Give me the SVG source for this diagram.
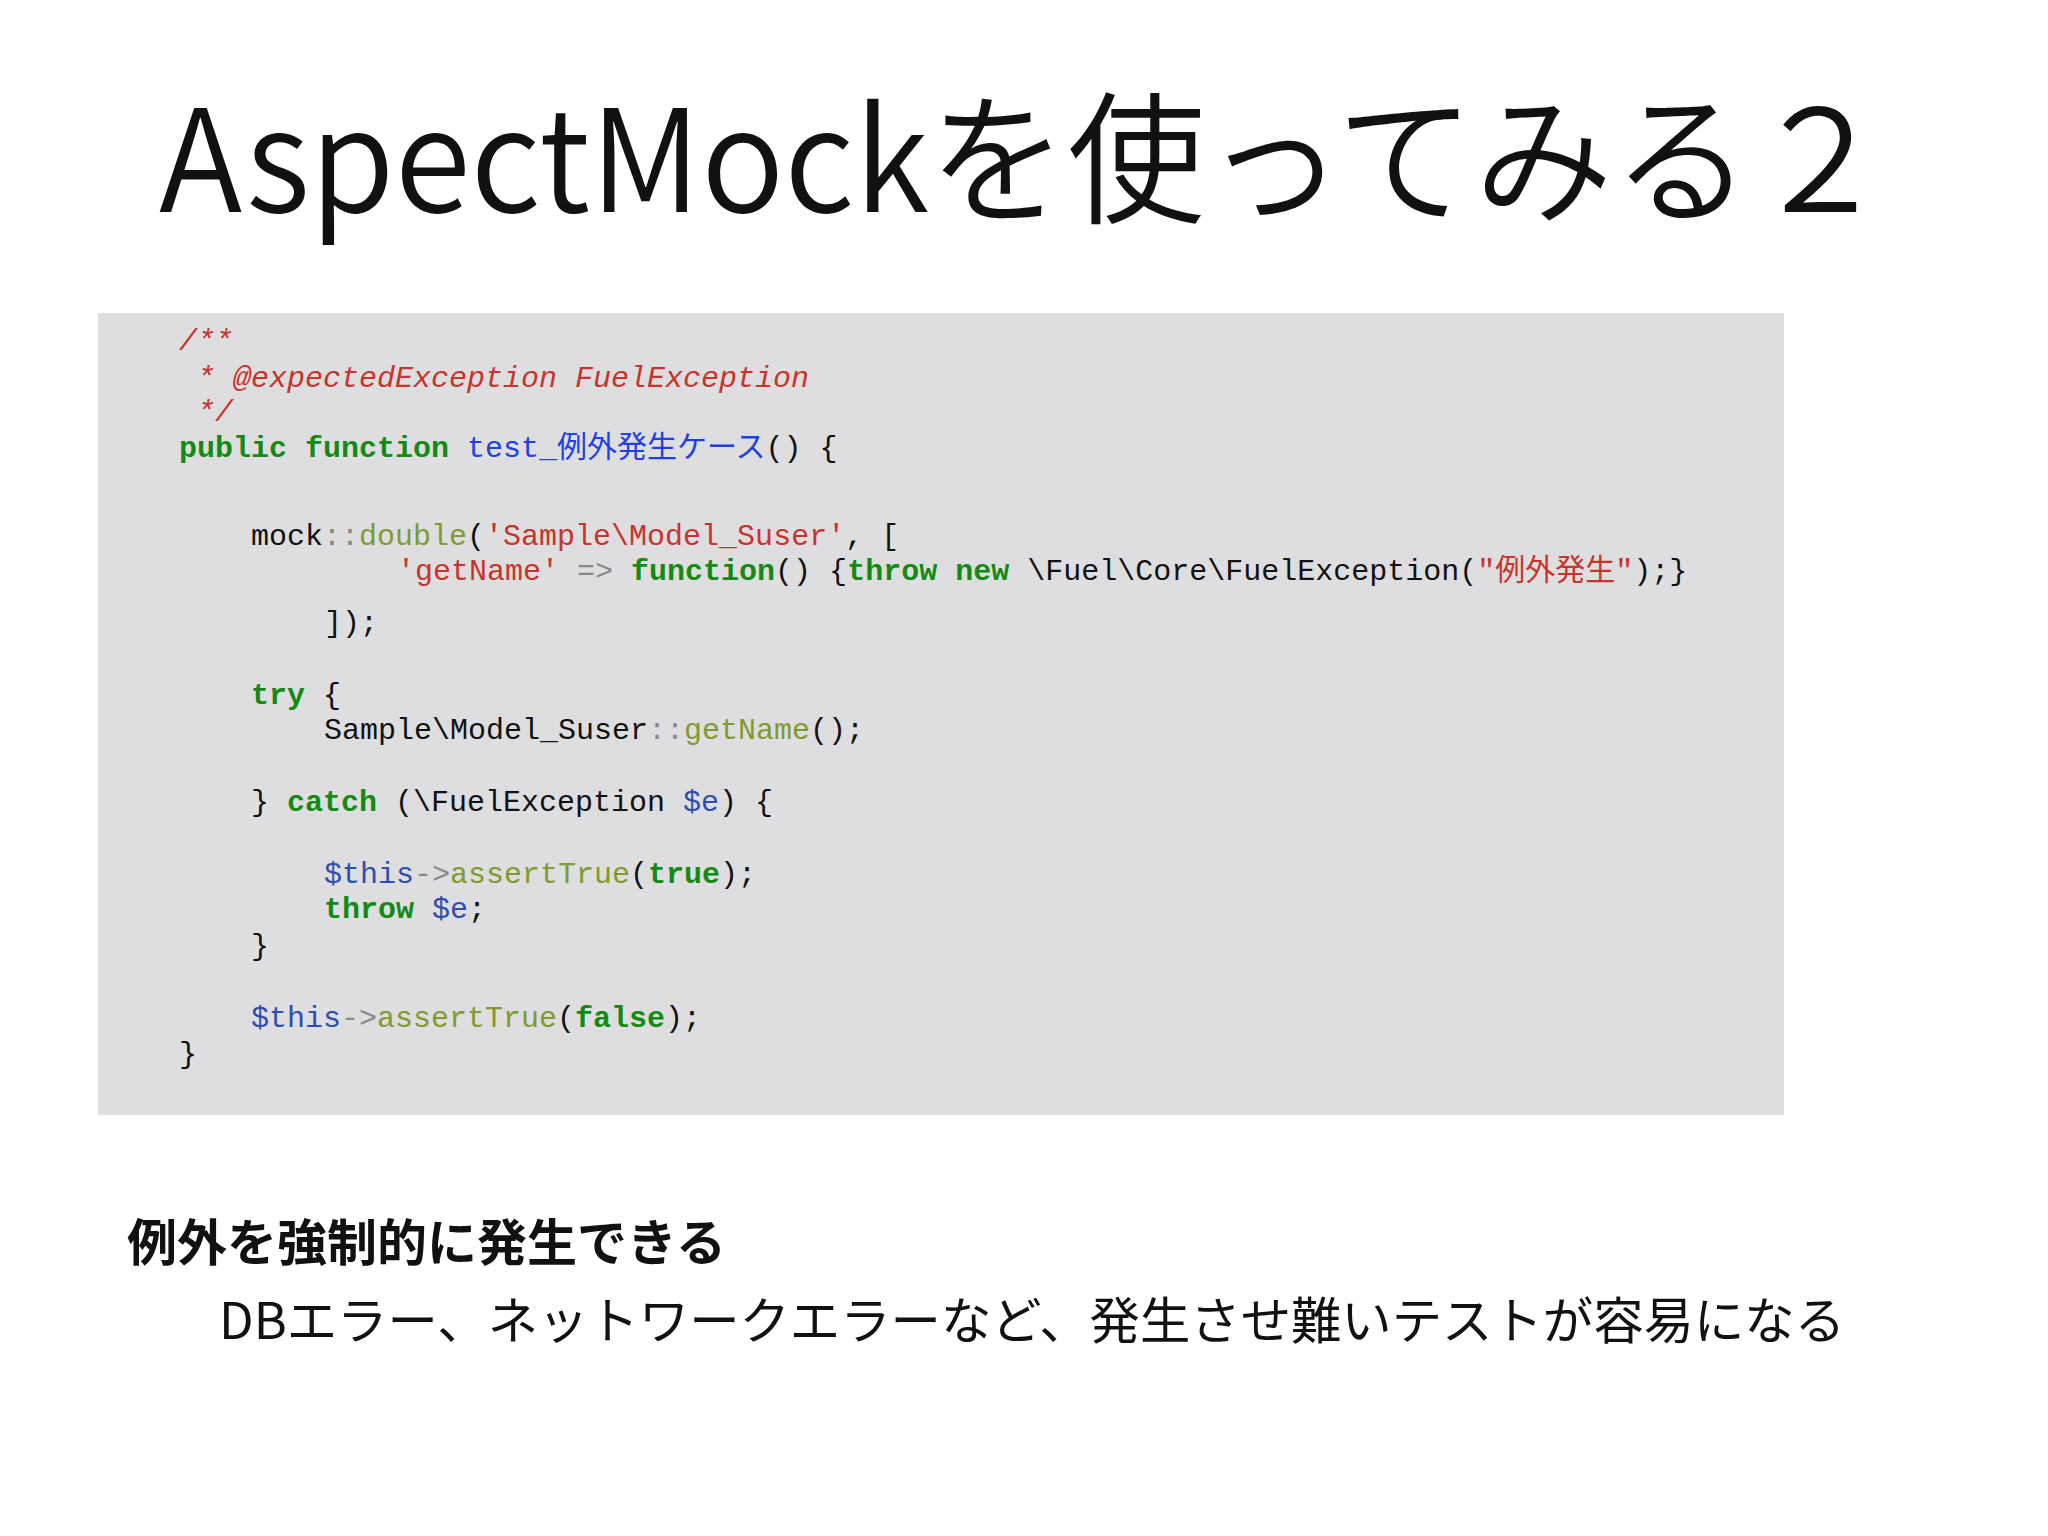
<svg xmlns="http://www.w3.org/2000/svg" width="2048" height="1536" viewBox="0 0 2048 1536">
<style>
.c{font-family:"Liberation Mono","Noto Sans CJK JP",monospace;font-size:30px;fill:#111}
.cm{fill:#c8342c;font-style:italic}
.k{fill:#138a13;font-weight:bold}
.fn{fill:#2240e0}
.s{fill:#c8342c}
.m{fill:#7f9a2e}
.v{fill:#2d4fb0}
.g{fill:#888}
</style>
<rect width="2048" height="1536" fill="#fff"/>
<g id="title"><text x="159" y="212" font-family="'Noto Sans CJK JP',sans-serif" font-weight="350" font-size="142" textLength="1730" lengthAdjust="spacingAndGlyphs" fill="#111">AspectMockを使ってみる２</text></g>
<g id="code">
<rect x="98" y="313" width="1686" height="802" fill="#dedee0"/>
<text class="c" xml:space="preserve">
<tspan x="179" y="350" class="cm">/**</tspan>
<tspan x="179" y="387" class="cm"> * @expectedException FuelException</tspan>
<tspan x="179" y="421" class="cm"> */</tspan>
<tspan x="179" y="457"><tspan class="k">public</tspan> <tspan class="k">function</tspan> <tspan class="fn">test_例外発生ケース</tspan>() {</tspan>
<tspan x="251" y="545">mock<tspan class="g">::</tspan><tspan class="m">double</tspan>(<tspan class="s">'Sample\Model_Suser'</tspan>, [</tspan>
<tspan x="397" y="580"><tspan class="s">'getName'</tspan> <tspan class="g">=&gt;</tspan> <tspan class="k">function</tspan>() {<tspan class="k">throw</tspan> <tspan class="k">new</tspan> \Fuel\Core\FuelException(<tspan class="s">"例外発生"</tspan>);}</tspan>
<tspan x="324" y="632">]);</tspan>
<tspan x="251" y="704"><tspan class="k">try</tspan> {</tspan>
<tspan x="324" y="739">Sample\Model_Suser<tspan class="g">::</tspan><tspan class="m">getName</tspan>();</tspan>
<tspan x="251" y="811">} <tspan class="k">catch</tspan> (\FuelException <tspan class="v">$e</tspan>) {</tspan>
<tspan x="324" y="883"><tspan class="v">$this</tspan><tspan class="g">-&gt;</tspan><tspan class="m">assertTrue</tspan>(<tspan class="k">true</tspan>);</tspan>
<tspan x="324" y="918"><tspan class="k">throw</tspan> <tspan class="v">$e</tspan>;</tspan>
<tspan x="251" y="955">}</tspan>
<tspan x="251" y="1027"><tspan class="v">$this</tspan><tspan class="g">-&gt;</tspan><tspan class="m">assertTrue</tspan>(<tspan class="k">false</tspan>);</tspan>
<tspan x="179" y="1063">}</tspan>
</text>
</g>
<g id="notes" font-family="'Noto Sans CJK JP',sans-serif" fill="#111">
<text x="127" y="1261" font-size="50" font-weight="bold">例外を強制的に発生できる</text>
<text x="219" y="1339" font-size="50" textLength="1626" lengthAdjust="spacingAndGlyphs">DBエラー、ネットワークエラーなど、発生させ難いテストが容易になる</text>
</g>
</svg>
